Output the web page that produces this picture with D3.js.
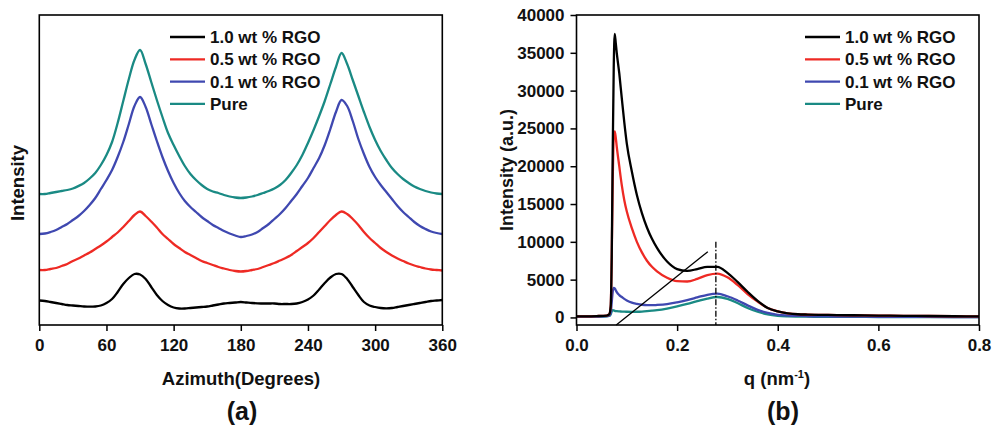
<!DOCTYPE html>
<html>
<head>
<meta charset="utf-8">
<script src="https://cdn.jsdelivr.net/npm/d3@7"></script>
<style>
  body { margin: 0; background: #fff; }
  svg { display: block; font-family: "Liberation Sans", Arial, sans-serif; font-weight: bold; }
</style>
</head>
<body>
<script>
const width = 992
const height = 427

const seriesNames = ['1.0 wt % RGO', '0.5 wt % RGO', '0.1 wt % RGO', 'Pure']
const colors = ['#000000', '#ee2a24', '#3f48b0', '#1a8a84']

// (a) azimuthal profiles, offset intensity (a.u.)
const azimuth = d3.range(0, 361, 5)
const azBlack = [24.5, 24, 23, 22, 21, 20, 19.5, 19, 18.5, 18.3, 18.5, 19.5, 22, 26, 33, 41, 47, 51, 50.5, 46, 38, 30, 24, 20, 17.5, 16.5, 16.5, 17, 17.5, 18, 18.5, 19.5, 20.5, 21.5, 22, 22.5,
  23, 22.5, 22, 21.7, 21.5, 21.5, 21.5, 21, 21, 21, 21.5, 23, 25.5, 29.5, 35.5, 42, 47.5, 51, 51, 46, 38, 30, 23, 19.5, 18, 17, 16.7, 17, 18, 19, 20, 21, 22, 23, 24, 24.5, 25]
const azRed = [55, 55, 56, 57, 59, 61, 64, 66.5, 69.5, 72.5, 76, 79.5, 83.5, 88, 92.5, 98, 104, 110, 113.5, 109, 103.5, 97.5, 91, 86, 81, 77, 73, 70, 67, 64, 62, 60, 58, 56.5, 55, 54,
  53.5, 54, 55, 56, 58, 60, 62, 64.5, 67, 70, 74, 78, 82, 87, 93, 99, 105, 110, 113.5, 111, 106, 100, 93, 87, 82, 77, 73, 69.5, 66.5, 64, 61.5, 59.5, 58, 56.5, 55.5, 55, 54.5]
const azBlue = [91, 91.5, 93, 95, 98, 101, 105, 109, 114, 120, 127, 136, 145, 155, 168, 183, 201, 219, 228, 218, 201, 184, 168, 154, 142, 132, 124, 118, 113, 108, 104, 100, 97, 94, 91.5, 89.5,
  88, 89, 90.5, 93, 97, 101, 106, 111, 117, 124, 131, 139, 147, 157, 167, 180, 196, 213, 225, 219, 204, 186, 171, 158, 148, 140, 133, 126, 119, 113, 108, 103, 99, 96, 93.5, 92, 91]
const azPure = [131, 131, 132, 133, 134, 135, 136.5, 139, 142, 146.5, 152, 160, 170, 183, 202, 224, 246, 265, 275, 261, 243, 225, 208, 192, 180, 169, 159, 151, 145, 140, 136, 133.5, 132, 130, 128.5, 127.5,
  127, 127.5, 128.5, 130, 132, 134, 136.5, 140, 145, 152, 160, 170, 182, 195, 209, 224, 241, 258, 272, 261, 245, 229, 213, 198, 185, 174, 165, 157, 151, 146, 142, 138.5, 136, 134, 132.5, 131.5, 131]
const azTicks = [0, 60, 120, 180, 240, 300, 360]

// (b) SAXS profiles
const q = [0, 0.02, 0.04, 0.06, 0.065, 0.068, 0.07, 0.072, 0.074, 0.076, 0.078, 0.08, 0.085, 0.09, 0.095, 0.1, 0.11, 0.12, 0.13, 0.14, 0.15, 0.16, 0.18, 0.2, 0.22, 0.24, 0.26, 0.28, 0.3, 0.32, 0.34, 0.36, 0.38, 0.4, 0.42, 0.44, 0.46, 0.5, 0.55, 0.6, 0.65, 0.7, 0.75, 0.8]
const qBlack = [150, 150, 180, 250, 400, 1500, 8000, 22000, 33000, 37500, 36300, 35000, 32300, 29000, 25800, 23000, 19300, 16200, 13800, 11900, 10400, 9200, 7400, 6400, 6150, 6400, 6700, 6700, 5900, 4700, 3400, 2200, 1250, 800, 550, 420, 380, 330, 290, 250, 220, 190, 160, 130]
const qRed = [150, 150, 180, 250, 400, 1500, 8000, 18000, 23800, 24600, 23800, 22600, 20000, 17500, 15500, 14000, 11800, 10000, 8600, 7500, 6700, 6100, 5250, 4800, 4750, 5100, 5600, 5800, 5300, 4300, 3100, 2100, 1250, 800, 550, 430, 380, 330, 290, 250, 220, 190, 160, 130]
const qBlue = [100, 100, 120, 180, 250, 600, 2000, 3400, 3900, 3850, 3600, 3350, 2950, 2700, 2450, 2250, 1950, 1800, 1680, 1620, 1620, 1650, 1760, 2000, 2300, 2650, 3000, 3150, 2800, 2250, 1600, 1000, 600, 350, 250, 200, 160, 130, 110, 90, 80, 70, 60, 50]
const qPure = [100, 100, 120, 160, 200, 400, 800, 950, 920, 880, 850, 830, 800, 780, 760, 750, 740, 750, 780, 830, 890, 960, 1170, 1450, 1780, 2150, 2500, 2700, 2450, 1900, 1250, 750, 400, 220, 150, 120, 100, 80, 70, 60, 55, 50, 45, 40]
const tangentQ = [0.079, 0.261]
const tangentI = [-1000, 8700]
const peakQ = 0.277
const peakI = [10000, -1000]

const svg = d3.select('body').append('svg')
  .attr('width', width)
  .attr('height', height)

const styleTicks = (sel) => {
  sel.select('.domain').remove()
  sel.selectAll('line').attr('stroke-width', 1.5)
  sel.selectAll('text')
    .attr('font-size', 17).attr('font-weight', 'bold').attr('fill', '#111')
    .attr('font-family', '"Liberation Sans", Arial, sans-serif')
}

const drawPanel = (opts) => {
  const {x, y, left, right, top, bottom} = opts
  const g = svg.append('g')

  // curves, black drawn last so it sits on top
  opts.series.map((vals, i) => ({vals, i})).reverse().forEach(({vals, i}) => {
    const line = d3.line()
      .x((d, j) => x(opts.xs[j]))
      .y((d) => y(d))
      .curve(opts.curve)
    g.append('path')
      .datum(vals)
      .attr('fill', 'none')
      .attr('stroke', colors[i])
      .attr('stroke-width', 2.3)
      .attr('stroke-linejoin', 'round')
      .attr('d', line)
  })

  // frame
  g.append('rect')
    .attr('x', left).attr('y', top)
    .attr('width', right - left).attr('height', bottom - top)
    .attr('fill', 'none').attr('stroke', '#000').attr('stroke-width', 1.6)

  // bottom axis
  const xAxis = g.append('g').attr('transform', `translate(0,${bottom})`)
  xAxis.call(d3.axisBottom(x).tickValues(opts.minorX).tickSize(3).tickFormat(''))
  xAxis.call(d3.axisBottom(x).tickValues(opts.majorX).tickSize(6).tickPadding(8).tickFormat(opts.fmtX))
  styleTicks(xAxis)

  // legend
  seriesNames.forEach((name, i) => {
    const ly = 37 + i * 22.3
    g.append('line')
      .attr('x1', opts.legX).attr('x2', opts.legX + 35)
      .attr('y1', ly).attr('y2', ly)
      .attr('stroke', colors[i]).attr('stroke-width', 2.3)
    g.append('text')
      .attr('x', opts.legX + 40).attr('y', ly + 6)
      .attr('font-size', 17).attr('fill', '#111')
      .text(name)
  })
  return g
}

// ---------- panel (a)
const xA = d3.scaleLinear().domain([0, 360]).range([39.3, 442.3])
const yA = d3.scaleLinear().domain([0, 310]).range([325, 15])
drawPanel({
  x: xA, y: yA, left: 39.3, right: 442.3, top: 15, bottom: 325,
  xs: azimuth,
  series: [azBlack, azRed, azBlue, azPure],
  curve: d3.curveCatmullRom.alpha(0.5),
  majorX: azTicks,
  minorX: d3.range(30, 360, 60),
  fmtX: d3.format('d'),
  legX: 170
})

svg.append('text')
  .attr('transform', 'translate(24,183) rotate(-90)')
  .attr('text-anchor', 'middle')
  .attr('font-size', 18.5).attr('fill', '#111')
  .text('Intensity')
svg.append('text')
  .attr('x', 241).attr('y', 385)
  .attr('text-anchor', 'middle')
  .attr('font-size', 18.5).attr('fill', '#111')
  .text('Azimuth(Degrees)')
svg.append('text')
  .attr('x', 242).attr('y', 420)
  .attr('text-anchor', 'middle')
  .attr('font-size', 25).attr('fill', '#111')
  .text('(a)')

// ---------- panel (b)
const xB = d3.scaleLinear().domain([0, 0.8]).range([576.5, 979])
const yB = d3.scaleLinear().domain([-1000, 40000]).range([325, 15])
const gB = drawPanel({
  x: xB, y: yB, left: 576.5, right: 979, top: 15, bottom: 325,
  xs: q,
  series: [qBlack, qRed, qBlue, qPure],
  curve: d3.curveMonotoneX,
  majorX: [0, 0.2, 0.4, 0.6, 0.8],
  minorX: [0.1, 0.3, 0.5, 0.7],
  fmtX: d3.format('.1f'),
  legX: 805
})

const yAxisB = gB.append('g').attr('transform', 'translate(576.5,0)')
yAxisB.call(d3.axisLeft(yB).tickValues(d3.range(2500, 40000, 5000)).tickSize(3).tickFormat(''))
yAxisB.call(d3.axisLeft(yB).tickValues(d3.range(0, 40001, 5000)).tickSize(6).tickPadding(6).tickFormat(d3.format('d')))
styleTicks(yAxisB)

// annotations
gB.append('line')
  .attr('x1', xB(tangentQ[0])).attr('y1', yB(tangentI[0]))
  .attr('x2', xB(tangentQ[1])).attr('y2', yB(tangentI[1]))
  .attr('stroke', '#000').attr('stroke-width', 1.3)
gB.append('line')
  .attr('x1', xB(peakQ)).attr('y1', yB(peakI[0]))
  .attr('x2', xB(peakQ)).attr('y2', yB(peakI[1]))
  .attr('stroke', '#000').attr('stroke-width', 1.3)
  .attr('stroke-dasharray', '6,2,1.5,2')

svg.append('text')
  .attr('transform', 'translate(513,170) rotate(-90)')
  .attr('text-anchor', 'middle')
  .attr('font-size', 18).attr('fill', '#111')
  .text('Intensity (a.u.)')
const qLabel = svg.append('text')
  .attr('x', 777).attr('y', 385)
  .attr('text-anchor', 'middle')
  .attr('font-size', 18.5).attr('fill', '#111')
qLabel.append('tspan').text('q (nm')
qLabel.append('tspan').attr('font-size', 11).attr('dy', -7).text('-1')
qLabel.append('tspan').attr('dy', 7).text(')')
svg.append('text')
  .attr('x', 783).attr('y', 420)
  .attr('text-anchor', 'middle')
  .attr('font-size', 25).attr('fill', '#111')
  .text('(b)')
</script>
</body>
</html>
